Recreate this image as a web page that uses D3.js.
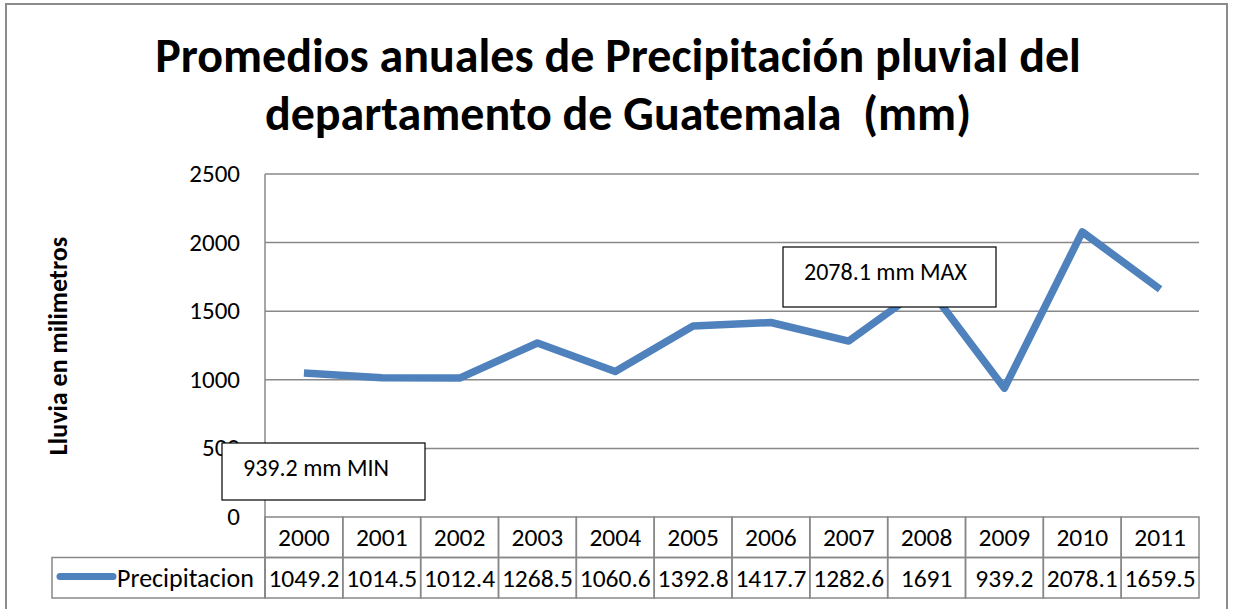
<!DOCTYPE html>
<html>
<head>
<meta charset="utf-8">
<script src="https://cdn.jsdelivr.net/npm/d3@7"></script>
<style>
  body { margin: 0; background: #fff; }
  svg { display: block; font-family: Carlito, Lato, "Open Sans", sans-serif; }
</style>
</head>
<body>
<div id="chart"></div>
<script>
var years = ["2000","2001","2002","2003","2004","2005","2006","2007","2008","2009","2010","2011"];
var precip = [1049.2, 1014.5, 1012.4, 1268.5, 1060.6, 1392.8, 1417.7, 1282.6, 1691, 939.2, 2078.1, 1659.5];
var precipLabels = ["1049.2","1014.5","1012.4","1268.5","1060.6","1392.8","1417.7","1282.6","1691","939.2","2078.1","1659.5"];
var yTicks = [0, 500, 1000, 1500, 2000, 2500];
var titleLines = ["Promedios anuales de Precipitación pluvial del", "departamento de Guatemala  (mm)"];

var W = 1236, H = 609;
var plotL = 265, plotR = 1199, plotT = 174, plotB = 517;
var rowH = 40.5;

var svg = d3.select("#chart").append("svg")
    .attr("width", W).attr("height", H);

// outer frame
svg.append("rect")
    .attr("x", 6).attr("y", 4)
    .attr("width", 1221).attr("height", 620)
    .attr("fill", "#fff")
    .attr("stroke", "#8c8c8c")
    .attr("stroke-width", 2);

// title
svg.append("g").selectAll("text")
    .data(titleLines)
    .enter().append("text")
    .attr("x", 618)
    .attr("y", function(d, i) { return 72 + i * 58; })
    .attr("text-anchor", "middle")
    .style("font-weight", "bold")
    .style("font-size", "48px")
    .style("white-space", "pre")
    .attr("xml:space", "preserve")
    .text(function(d) { return d; });

var x = d3.scaleBand().domain(years).range([plotL, plotR]);
var y = d3.scaleLinear().domain([0, 2500]).range([plotB, plotT]);

// gridlines
svg.append("g").selectAll("line")
    .data(yTicks.filter(function(d) { return d > 0; }))
    .enter().append("line")
    .attr("x1", plotL).attr("x2", plotR)
    .attr("y1", function(d) { return y(d); })
    .attr("y2", function(d) { return y(d); })
    .attr("stroke", "#888").attr("stroke-width", 1.5);

// y axis line
svg.append("line")
    .attr("x1", plotL).attr("x2", plotL)
    .attr("y1", plotT).attr("y2", plotB + 2 * rowH)
    .attr("stroke", "#888").attr("stroke-width", 1.5);

// y tick labels
svg.append("g").selectAll("text")
    .data(yTicks)
    .enter().append("text")
    .attr("x", 240)
    .attr("y", function(d) { return y(d) + 8; })
    .attr("text-anchor", "end")
    .style("font-size", "25px")
    .text(function(d) { return d; });

// y title
svg.append("text")
    .attr("transform", "translate(67,346) rotate(-90)")
    .attr("text-anchor", "middle")
    .style("font-weight", "bold")
    .style("font-size", "26px")
    .text("Lluvia en milimetros");

// data line
var line = d3.line()
    .x(function(d, i) { return x(years[i]) + x.bandwidth() / 2; })
    .y(function(d) { return y(d); });

svg.append("path")
    .datum(precip)
    .attr("d", line)
    .attr("fill", "none")
    .attr("stroke", "#4f81bd")
    .attr("stroke-width", 7.5)
    .attr("stroke-linejoin", "round");

// data table
var table = svg.append("g");
var cols = table.selectAll("g.col")
    .data(years)
    .enter().append("g").attr("class", "col");

cols.append("rect")
    .attr("x", function(d) { return x(d); })
    .attr("y", plotB)
    .attr("width", x.bandwidth())
    .attr("height", rowH)
    .attr("fill", "none").attr("stroke", "#888").attr("stroke-width", 1.5);
cols.append("rect")
    .attr("x", function(d) { return x(d); })
    .attr("y", plotB + rowH)
    .attr("width", x.bandwidth())
    .attr("height", rowH)
    .attr("fill", "none").attr("stroke", "#888").attr("stroke-width", 1.5);
cols.append("text")
    .attr("x", function(d) { return x(d) + x.bandwidth() / 2; })
    .attr("y", plotB + 29)
    .attr("text-anchor", "middle")
    .style("font-size", "25.5px")
    .text(function(d) { return d; });
cols.append("text")
    .attr("x", function(d) { return x(d) + x.bandwidth() / 2; })
    .attr("y", plotB + rowH + 29)
    .attr("text-anchor", "middle")
    .style("font-size", "25.5px")
    .text(function(d, i) { return precipLabels[i]; });

// legend cell
table.append("rect")
    .attr("x", 52).attr("y", plotB + rowH)
    .attr("width", plotL - 52).attr("height", rowH)
    .attr("fill", "none").attr("stroke", "#888").attr("stroke-width", 1.5);
table.append("line")
    .attr("x1", 60).attr("x2", 113)
    .attr("y1", plotB + rowH + 19).attr("y2", plotB + rowH + 19)
    .attr("stroke", "#4f81bd").attr("stroke-width", 7)
    .attr("stroke-linecap", "round");
table.append("text")
    .attr("x", 117).attr("y", plotB + rowH + 29)
    .style("font-size", "26px")
    .text("Precipitacion");

// annotation boxes
var notes = [
  { text: "2078.1 mm MAX", x: 783, y: 247, w: 213, h: 60 },
  { text: "939.2 mm MIN", x: 222, y: 443, w: 203, h: 57 }
];
var ng = svg.append("g").selectAll("g")
    .data(notes)
    .enter().append("g");
ng.append("rect")
    .attr("x", function(d) { return d.x; })
    .attr("y", function(d) { return d.y; })
    .attr("width", function(d) { return d.w; })
    .attr("height", function(d) { return d.h; })
    .attr("fill", "#fff").attr("stroke", "#000").attr("stroke-width", 1.2);
ng.append("text")
    .attr("x", function(d) { return d.x + 21; })
    .attr("y", function(d) { return d.y + 33; })
    .style("font-size", "24px")
    .text(function(d) { return d.text; });
</script>
</body>
</html>
